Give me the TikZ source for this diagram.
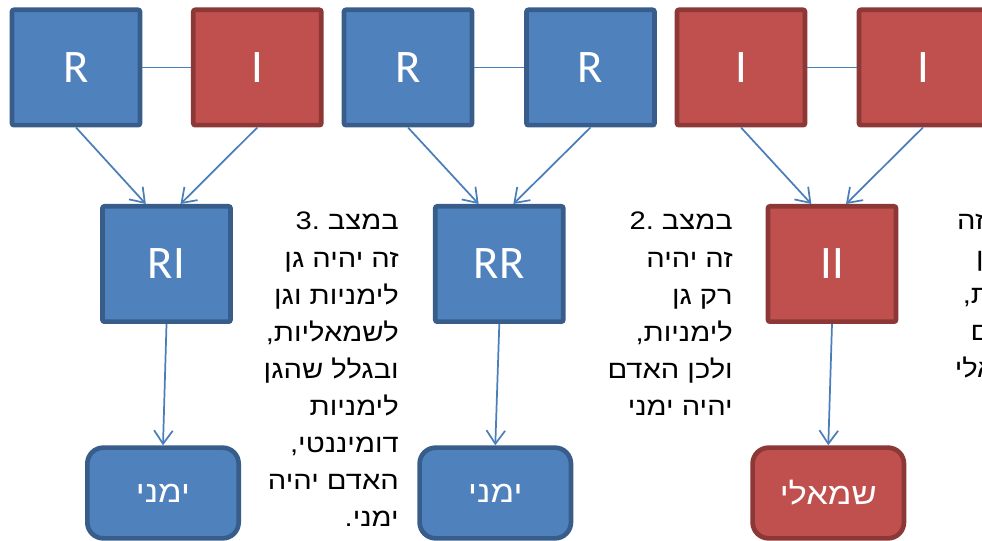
\documentclass[tikz,border=0pt]{standalone}
\usepackage{fontspec}
\setmainfont{Liberation Sans}
\newfontfamily\hebfont[Script=Hebrew,FakeStretch=1.15]{Liberation Sans}
\newfontfamily\numfont[FakeStretch=1.15]{Liberation Sans}
\newfontfamily\genefont{Carlito}
\TeXXeTstate=1
\usetikzlibrary{arrows.meta}

\definecolor{geneblue}{HTML}{4F81BD}
\definecolor{geneblueedge}{HTML}{385D8A}
\definecolor{genered}{HTML}{C0504D}
\definecolor{generededge}{HTML}{8C3836}
\definecolor{linkblue}{HTML}{4A7EBB}

\newcommand{\itemno}[1]{\hbox{\numfont #1}}

\tikzset{
	allele/.style={draw, line width=3.5pt, rounded corners=1.5pt, minimum width=96pt, minimum height=86.5pt, inner sep=0pt, text=white, font=\genefont\fontsize{35}{42}\selectfont},
	alleleR/.style={allele, fill=geneblue, draw=geneblueedge},
	alleleI/.style={allele, fill=genered, draw=generededge},
	trait/.style={draw, line width=3.5pt, rounded corners=12pt, minimum width=113.5pt, minimum height=68pt, inner sep=0pt, text=white, font=\hebfont\fontsize{22.5}{27}\selectfont},
	link/.style={draw=linkblue, line width=1.3pt},
	cross/.style={link, -{Straight Barb[length=10pt,width=14pt]}},
	note/.style={anchor=north east, inner sep=0pt, align=right, font=\hebfont\fontsize{19}{27.8}\selectfont}
}

\begin{document}
\begin{tikzpicture}[x=0.75pt,y=0.75pt,yscale=-1,xscale=1]
	\useasboundingbox (0,0) rectangle (982,541);
	\clip (0,0) rectangle (982,541);
	
	%Shape: Square - parents
	\node [alleleR] (parR1) at (76,67.5) {R};
	\node [alleleI] (parI1) at (257.3,67.5) {I};
	\node [alleleR] (parR2) at (408,67.5) {R};
	\node [alleleR] (parR3) at (590.5,67.5) {R};
	\node [alleleI] (parI2) at (741,67.5) {I};
	\node [alleleI] (parI3) at (923,67.5) {I};
	
	%Straight Lines - pairs
	\draw [link] (parR1.east) -- (parI1.west);
	\draw [link] (parR2.east) -- (parR3.west);
	\draw [link] (parI2.east) -- (parI3.west);
	
	%Shape: Square - offspring
	\node [alleleR] (kidRI) at (166.5,264) {RI};
	\node [alleleR] (kidRR) at (499.3,264) {RR};
	\node [alleleI] (kidII) at (832,264) {II};
	
	%Shape: Rounded Rect - trait
	\node [trait, fill=geneblue, draw=geneblueedge] (traitRI) at (163,493) {\beginR ימני\endR};
	\node [trait, fill=geneblue, draw=geneblueedge] (traitRR) at (495.3,493) {\beginR ימני\endR};
	\node [trait, fill=genered, draw=generededge] (traitII) at (828.3,493) {\beginR שמאלי\endR};
	
	%Straight Lines - arrows
	\draw [cross] (parR1.south) -- ([xshift=-15.5pt]kidRI.north);
	\draw [cross] (parI1.south) -- ([xshift=10.5pt]kidRI.north);
	\draw [cross] (parR2.south) -- ([xshift=-15.5pt]kidRR.north);
	\draw [cross] (parR3.south) -- ([xshift=10.5pt]kidRR.north);
	\draw [cross] (parI2.south) -- ([xshift=-15.5pt]kidII.north);
	\draw [cross] (parI3.south) -- ([xshift=10.5pt]kidII.north);
	\draw [cross] (kidRI.south) -- (traitRI.north);
	\draw [cross] (kidRR.south) -- (traitRR.north);
	\draw [cross] (kidII.south) -- (traitII.north);
	
	% Text Node
	\node [note] (noteRI) at (399,212) {\itemno{3.}\ \beginR במצב\endR\\
		\beginR זה יהיה גן\endR\\
		\beginR לימניות וגן\endR\\
		\beginR לשמאליות,\endR\\
		\beginR ובגלל שהגן\endR\\
		\beginR לימניות\endR\\
		\beginR דומיננטי,\endR\\
		\beginR האדם יהיה\endR\\
		\beginR ימני.\endR};
	% Text Node
	\node [note] (noteRR) at (733,212) {\itemno{2.}\ \beginR במצב\endR\\
		\beginR זה יהיה\endR\\
		\beginR רק גן\endR\\
		\beginR לימניות,\endR\\
		\beginR ולכן האדם\endR\\
		\beginR יהיה ימני\endR};
	% Text Node
	\node [note] (noteII) at (1096,212) {\beginR במצב זה\endR\ \itemno{1.}\\
		\beginR יהיה רק גן\endR\\
		\beginR לשמאליות,\endR\\
		\beginR ולכן האדם\endR\\
		\beginR יהיה שמאלי\endR};
\end{tikzpicture}
\end{document}
